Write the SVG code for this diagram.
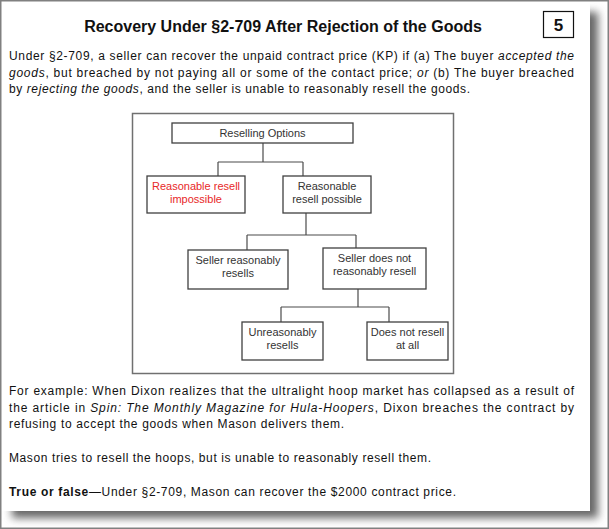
<svg xmlns="http://www.w3.org/2000/svg" width="609" height="529" viewBox="0 0 609 529">
<style>
.body{font-family:"Liberation Sans",Arial,sans-serif;font-size:12px;fill:#111}
.it{font-style:italic}
.b{font-weight:bold}
.node rect{fill:#fff;stroke:#404040;stroke-width:1.3}
.node text{font-family:"Liberation Sans",Arial,sans-serif;font-size:11px;fill:#333;text-anchor:middle}
.conn line{stroke:#4a4a4a;stroke-width:1.2}
</style>
<defs>
<filter id="sh" x="-10%" y="-10%" width="120%" height="120%">
<feGaussianBlur stdDeviation="4"/>
</filter>
</defs>
<rect x="0" y="0" width="609" height="529" fill="#fff"/>
<rect x="12" y="12" width="586" height="506" fill="#666" filter="url(#sh)"/>
<rect x="1" y="1" width="589" height="510" fill="#fff"/>
<rect x="0.75" y="0.75" width="607.5" height="527.5" fill="none" stroke="#808080" stroke-width="1.5"/>

<text x="283" y="32" text-anchor="middle" style="font-family:'Liberation Sans',Arial,sans-serif;font-size:16px;font-weight:bold;fill:#111">Recovery Under §2-709 After Rejection of the Goods</text>
<g id="page-number">
<rect x="543.5" y="11.5" width="30" height="26" fill="#fff" stroke="#111" stroke-width="1.2"/>
<text x="558.5" y="31" text-anchor="middle" style="font-family:'Liberation Sans',Arial,sans-serif;font-size:17px;font-weight:bold;fill:#111">5</text>
</g>

<text class="body" x="9" y="60" textLength="565" lengthAdjust="spacing">Under §2-709, a seller can recover the unpaid contract price (KP) if (a) The buyer <tspan class="it">accepted the</tspan></text>
<text class="body" x="9" y="77" textLength="565" lengthAdjust="spacing"><tspan class="it">goods</tspan>, but breached by not paying all or some of the contact price; <tspan class="it">or</tspan> (b) The buyer breached</text>
<text class="body" x="9" y="93" textLength="461" lengthAdjust="spacing">by <tspan class="it">rejecting the goods</tspan>, and the seller is unable to reasonably resell the goods.</text>

<rect x="132.5" y="113.5" width="321" height="260" fill="#fff" stroke="#707070" stroke-width="1.5"/>

<g id="connectors" class="conn">
<line x1="263" y1="143" x2="263" y2="162"/>
<line x1="218" y1="162" x2="303" y2="162"/>
<line x1="218" y1="162" x2="218" y2="176"/>
<line x1="303" y1="162" x2="303" y2="176"/>
<line x1="306" y1="213" x2="306" y2="235"/>
<line x1="247" y1="235" x2="356" y2="235"/>
<line x1="247" y1="235" x2="247" y2="250"/>
<line x1="356" y1="235" x2="356" y2="248"/>
<line x1="358" y1="289" x2="358" y2="307"/>
<line x1="281" y1="307" x2="389" y2="307"/>
<line x1="281" y1="307" x2="281" y2="322"/>
<line x1="389" y1="307" x2="389" y2="322"/>
</g>

<g id="reselling-options" class="node">
<rect x="172" y="123" width="181" height="20"/>
<text x="262.5" y="137">Reselling Options</text>
</g>
<g id="resell-impossible" class="node">
<rect x="147" y="176" width="98" height="37"/>
<text x="196" y="190" style="fill:#e82828">Reasonable resell</text>
<text x="196" y="203" style="fill:#e82828">impossible</text>
</g>
<g id="resell-possible" class="node">
<rect x="283" y="176" width="88" height="37"/>
<text x="327" y="190">Reasonable</text>
<text x="327" y="203">resell possible</text>
</g>
<g id="seller-resells" class="node">
<rect x="188" y="250" width="100" height="39"/>
<text x="238" y="264">Seller reasonably</text>
<text x="238" y="277">resells</text>
</g>
<g id="seller-not-resell" class="node">
<rect x="323" y="248" width="103" height="41"/>
<text x="374.5" y="262">Seller does not</text>
<text x="374.5" y="275">reasonably resell</text>
</g>
<g id="unreasonably" class="node">
<rect x="242" y="322" width="81" height="38"/>
<text x="282.5" y="336">Unreasonably</text>
<text x="282.5" y="349">resells</text>
</g>
<g id="not-resell" class="node">
<rect x="367" y="322" width="81" height="38"/>
<text x="407.5" y="336">Does not resell</text>
<text x="407.5" y="349">at all</text>
</g>

<text class="body" x="9" y="395" textLength="565" lengthAdjust="spacing">For example: When Dixon realizes that the ultralight hoop market has collapsed as a result of</text>
<text class="body" x="9" y="412" textLength="565" lengthAdjust="spacing">the article in <tspan class="it">Spin: The Monthly Magazine for Hula-Hoopers</tspan>, Dixon breaches the contract by</text>
<text class="body" x="9" y="428" textLength="335" lengthAdjust="spacing">refusing to accept the goods when Mason delivers them.</text>
<text class="body" x="9" y="462" textLength="422" lengthAdjust="spacing">Mason tries to resell the hoops, but is unable to reasonably resell them.</text>
<text class="body" x="9" y="496" textLength="447" lengthAdjust="spacing"><tspan class="b">True or false</tspan>—Under §2-709, Mason can recover the $2000 contract price.</text>
</svg>
